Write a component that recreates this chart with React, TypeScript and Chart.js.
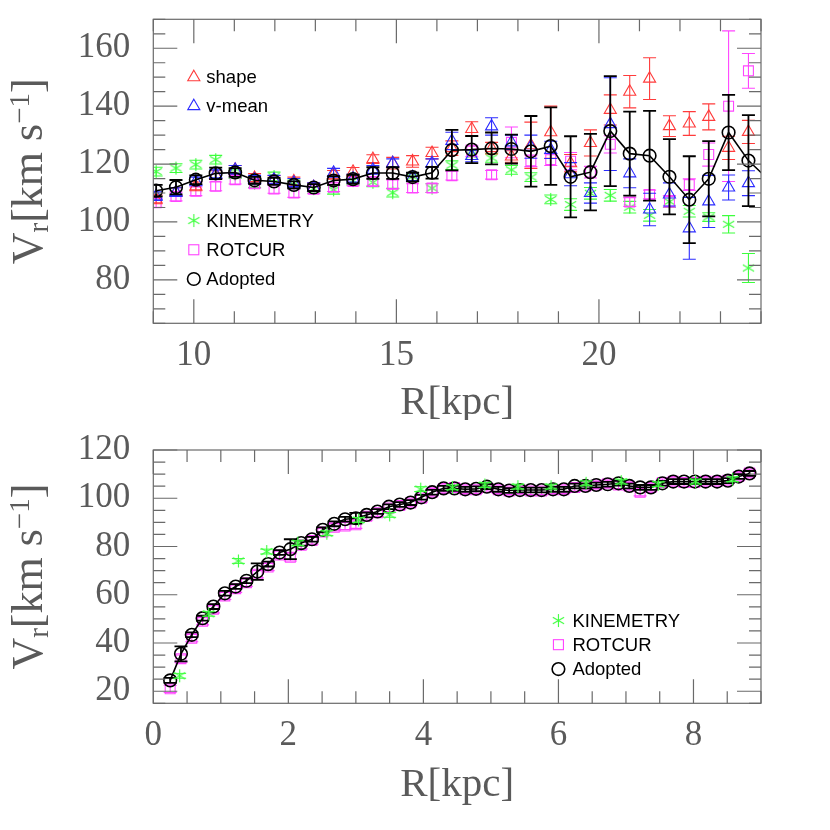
import React, { useEffect, useRef } from 'react';
import { Chart, registerables } from 'chart.js';

Chart.register(...registerables);

// ---------------- Top panel (outer disk) ----------------
const outerTicksX = [10, 15, 20];
const outerTicksY = [80, 100, 120, 140, 160];

const outerR = [9.07, 9.56, 10.05, 10.54, 11.02, 11.5, 11.98, 12.47, 12.96, 13.45, 13.93, 14.42, 14.91, 15.4, 15.88, 16.37, 16.86, 17.35, 17.84, 18.32, 18.81, 19.3, 19.79, 20.28, 20.76, 21.25, 21.74, 22.23, 22.71, 23.2, 23.69];
const outerAdoptedR = [9.07, 9.56, 10.05, 10.54, 11.02, 11.5, 11.98, 12.47, 12.96, 13.45, 13.93, 14.42, 14.91, 15.4, 15.88, 16.37, 16.86, 17.35, 17.84, 18.32, 18.81, 19.3, 19.79, 20.28, 20.76, 21.25, 21.74, 22.23, 22.71, 23.2, 23.69, 24.18];

const outerAdopted = [110.8, 112.0, 114.6, 116.8, 117.1, 114.4, 114.0, 112.8, 111.9, 114.3, 114.8, 116.9, 116.9, 115.5, 117.0, 124.8, 125.0, 125.4, 125.2, 124.4, 126.2, 115.6, 117.2, 131.4, 123.6, 122.9, 115.6, 107.7, 114.9, 130.9, 121.2, 114.7];
const outerAdoptedErr = [2.0, 2.5, 1.5, 2.0, 1.5, 1.2, 1.2, 1.2, 1.2, 1.5, 1.5, 2.0, 2.0, 1.5, 2.0, 7.0, 4.7, 5.5, 5.0, 12.2, 13.4, 14.0, 13.2, 19.0, 14.5, 15.5, 13.0, 15.0, 13.0, 13.0, 15.7, 15.0];

const outerShape = [107.8, 110.3, 112.3, 116.2, 118.0, 115.2, 114.5, 114.0, 112.0, 116.3, 117.3, 121.7, 120.3, 120.9, 123.8, 125.5, 132.1, 125.5, 122.6, 126.5, 131.0, 120.3, 127.3, 138.7, 145.0, 149.5, 133.1, 134.0, 136.3, 125.6, 131.1];
const outerShapeErr = [1.5, 1.5, 1.5, 1.5, 1.5, 1.5, 1.5, 1.5, 1.5, 1.5, 1.5, 1.5, 2.0, 2.0, 2.0, 2.5, 2.5, 2.0, 2.0, 8.0, 9.0, 3.0, 4.5, 5.2, 5.6, 7.2, 3.6, 4.1, 4.5, 4.0, 4.0];

const outerVmean = [108.9, 110.3, 114.0, 116.5, 118.0, 114.6, 114.6, 113.5, 112.0, 117.0, 115.0, 118.0, 120.3, 115.5, 120.3, 128.0, 122.8, 133.0, 127.5, 126.0, 124.9, 116.5, 110.0, 133.8, 116.8, 104.3, 109.5, 97.8, 107.1, 111.9, 113.4];
const outerVmeanErr = [1.5, 1.5, 1.5, 1.5, 1.5, 1.5, 1.5, 1.5, 1.5, 1.5, 1.5, 1.5, 1.5, 1.5, 1.5, 3.0, 2.0, 3.0, 2.5, 4.0, 3.0, 4.0, 3.5, 16.0, 5.0, 5.6, 4.0, 10.7, 9.0, 4.3, 4.3];

const outerKin = [117.4, 118.6, 119.8, 121.5, 116.5, 113.4, 115.7, 113.0, 111.5, 111.1, 114.3, 113.7, 110.1, 115.6, 111.7, 119.6, 123.1, 122.1, 118.0, 115.5, 107.8, 106.0, 109.9, 109.2, 105.1, 102.3, 107.0, 103.7, 101.7, 99.2, 84.1];
const outerKinErr = [1.5, 1.5, 1.5, 1.5, 1.5, 1.5, 1.5, 1.5, 1.5, 1.5, 1.5, 1.5, 1.5, 1.5, 1.5, 1.5, 1.5, 1.5, 1.5, 1.5, 1.5, 2.0, 2.0, 2.0, 2.0, 2.0, 2.0, 2.0, 1.5, 3.0, 5.0];

const outerRot = [106.6, 108.8, 110.6, 112.3, 114.6, 113.2, 111.4, 110.0, 111.3, 112.0, 114.0, 114.0, 113.0, 111.7, 111.7, 116.0, 124.5, 116.3, 127.5, 121.1, 121.5, 121.0, 117.2, 126.8, 106.9, 109.5, 107.1, 112.9, 123.3, 140.0, 152.2];
const outerRotErr = [1.5, 1.5, 1.5, 1.5, 1.5, 1.5, 1.5, 1.5, 1.5, 1.5, 1.5, 1.5, 1.5, 1.5, 1.5, 1.5, 2.0, 1.5, 5.3, 2.0, 2.0, 3.0, 2.0, 3.0, 1.5, 1.5, 2.0, 2.0, 4.0, 26.0, 6.0];

// ---------------- Bottom panel (inner disk) ----------------
const innerTicksX = [0, 2, 4, 6, 8];
const innerTicksY = [20, 40, 60, 80, 100, 120];

const innerR = [0.25, 0.41, 0.57, 0.73, 0.89, 1.06, 1.22, 1.38, 1.54, 1.7, 1.87, 2.03, 2.19, 2.35, 2.51, 2.68, 2.84, 3.0, 3.16, 3.32, 3.49, 3.65, 3.81, 3.97, 4.13, 4.3, 4.46, 4.62, 4.78, 4.94, 5.11, 5.27, 5.43, 5.59, 5.75, 5.92, 6.08, 6.24, 6.4, 6.56, 6.73, 6.89, 7.05, 7.21, 7.37, 7.54, 7.7, 7.86, 8.02, 8.18, 8.35, 8.51, 8.67, 8.83];
const innerAdopted = [24.5, 35.5, 43.4, 50.3, 55.1, 60.6, 63.4, 65.8, 69.6, 72.7, 77.5, 78.9, 81.4, 83.0, 86.9, 89.4, 91.3, 91.7, 93.1, 94.5, 96.5, 97.4, 98.2, 100.4, 102.5, 104.1, 104.1, 103.7, 103.9, 104.8, 103.7, 103.2, 103.4, 103.4, 103.4, 103.7, 103.7, 105.1, 105.1, 105.5, 105.8, 106.2, 105.1, 104.5, 104.5, 106.2, 106.9, 106.9, 106.9, 106.9, 106.9, 107.3, 109.0, 110.3];
const innerAdoptedErr = [1.0, 3.1, 1.0, 1.0, 1.0, 1.0, 1.0, 1.0, 3.4, 1.0, 1.0, 4.1, 1.0, 1.0, 1.0, 1.0, 1.0, 2.2, 1.0, 1.0, 1.0, 1.0, 1.0, 1.0, 1.0, 1.0, 1.0, 1.0, 1.0, 1.0, 1.0, 1.0, 1.0, 1.0, 1.0, 1.0, 1.0, 1.0, 1.0, 1.0, 1.0, 1.0, 1.0, 1.0, 1.0, 1.0, 1.0, 1.0, 1.0, 1.0, 1.0, 1.0, 1.0, 1.0];
const innerRot = [21.0, 33.5, 42.0, 49.0, 54.0, 59.5, 62.5, 65.0, 68.5, 71.5, 76.5, 75.5, 80.5, 82.5, 86.0, 88.0, 88.5, 89.0, 92.5, 94.0, 96.0, 97.0, 98.0, 100.0, 102.5, 104.0, 104.5, 103.5, 103.5, 104.5, 103.5, 103.0, 103.5, 103.0, 103.0, 103.5, 103.5, 104.5, 105.0, 105.5, 106.0, 105.5, 105.0, 102.5, 104.5, 106.5, 107.0, 106.5, 106.5, 107.0, 107.0, 107.5, 109.0, 110.5];
const innerRotErr = [1.5, 1.5, 1.5, 1.5, 1.5, 1.5, 1.5, 1.5, 1.5, 1.5, 1.5, 1.5, 1.5, 1.5, 1.5, 1.5, 1.5, 1.5, 1.5, 1.5, 1.5, 1.5, 1.5, 1.5, 1.5, 1.5, 1.5, 1.5, 1.5, 1.5, 1.5, 1.5, 1.5, 1.5, 1.5, 1.5, 1.5, 1.5, 1.5, 1.5, 1.5, 1.5, 1.5, 1.5, 1.5, 1.5, 1.5, 1.5, 1.5, 1.5, 1.5, 1.5, 1.5, 1.5];
const innerKinR = [0.39, 0.82, 1.26, 1.68, 2.14, 2.57, 3.04, 3.5, 3.96, 4.43, 4.91, 5.4, 5.89, 6.41, 6.93, 7.48, 8.03, 8.58];
const innerKin = [26.4, 52.1, 74.0, 77.9, 81.4, 85.5, 91.0, 93.1, 103.8, 104.5, 105.5, 104.8, 104.8, 106.2, 106.9, 105.8, 106.9, 107.9];
const innerKinErr = [1.0, 1.0, 1.0, 1.0, 1.0, 1.0, 1.0, 1.0, 1.0, 1.0, 1.0, 1.0, 1.0, 1.0, 1.0, 1.0, 1.0, 1.0];

// ---------------- Styles ----------------
const SERIF = '"Liberation Serif", "Times New Roman", serif';
const SANS = '"Liberation Sans", Arial, Helvetica, sans-serif';
const FRAME = '#6a6a6a';
const LABEL = '#5a5a5a';
const COL = { shape: '#ff3b3b', vmean: '#2b2bff', kin: '#3cff3c', rot: '#ff45ff', adopted: '#000000' };

function makeAsterisk(color: string) {
  const c = document.createElement('canvas');
  c.width = 15;
  c.height = 15;
  const g = c.getContext('2d')!;
  g.strokeStyle = color;
  g.lineWidth = 1.1;
  const cx = 7.5, cy = 7.5, r = 6.5;
  for (const deg of [90, 30, 150]) {
    const a = (deg * Math.PI) / 180;
    g.beginPath();
    g.moveTo(cx - r * Math.cos(a), cy - r * Math.sin(a));
    g.lineTo(cx + r * Math.cos(a), cy + r * Math.sin(a));
    g.stroke();
  }
  return c;
}

function pts(xs: number[], ys: number[]) {
  return ys.map((y, i) => ({ x: xs[i], y }));
}

function drawMarker(ctx: CanvasRenderingContext2D, kind: string, x: number, y: number, color: string, star: HTMLCanvasElement) {
  ctx.save();
  ctx.strokeStyle = color;
  ctx.lineWidth = kind === 'circle' ? 1.6 : 1.1;
  ctx.beginPath();
  if (kind === 'triangle') {
    const r = 7;
    for (let k = 0; k < 3; k++) {
      const a = (k * 2 * Math.PI) / 3;
      const px = x + Math.sin(a) * r, py = y - Math.cos(a) * r;
      if (k === 0) ctx.moveTo(px, py); else ctx.lineTo(px, py);
    }
    ctx.closePath();
    ctx.stroke();
  } else if (kind === 'rect') {
    const s = 5;
    ctx.strokeRect(x - s, y - s, 2 * s, 2 * s);
  } else if (kind === 'circle') {
    ctx.arc(x, y, 6.3, 0, Math.PI * 2);
    ctx.stroke();
  } else if (kind === 'star') {
    ctx.drawImage(star, x - star.width / 2, y - star.height / 2);
  }
  ctx.restore();
}

const decorPlugin = {
  id: 'decor',
  beforeDatasetDraw(chart: any, args: any) {
    const ds = chart.data.datasets[args.index];
    if (!ds.errors) return;
    const { ctx, chartArea: a } = chart;
    const xs = chart.scales.x, ys = chart.scales.y;
    ctx.save();
    ctx.beginPath();
    ctx.rect(a.left, a.top, a.right - a.left, a.bottom - a.top);
    ctx.clip();
    ctx.strokeStyle = ds.errColor;
    ctx.lineWidth = ds.errWidth;
    const cap = 6.5;
    ds.data.forEach((p: any, j: number) => {
      const e = ds.errors[j];
      const px = xs.getPixelForValue(p.x);
      const y1 = ys.getPixelForValue(p.y - e);
      const y2 = ys.getPixelForValue(p.y + e);
      ctx.beginPath();
      ctx.moveTo(px, y1);
      ctx.lineTo(px, y2);
      ctx.moveTo(px - cap, y1);
      ctx.lineTo(px + cap, y1);
      ctx.moveTo(px - cap, y2);
      ctx.lineTo(px + cap, y2);
      ctx.stroke();
    });
    ctx.restore();
  },
  afterDatasetsDraw(chart: any, _args: any, o: any) {
    const { ctx, chartArea: a } = chart;
    const xs = chart.scales.x, ys = chart.scales.y;
    ctx.save();
    // frame
    ctx.strokeStyle = FRAME;
    ctx.lineWidth = 1.2;
    ctx.strokeRect(a.left, a.top, a.right - a.left, a.bottom - a.top);
    // inward ticks on all sides
    ctx.beginPath();
    const nx = Math.round((xs.max - xs.min) / o.xMinor);
    for (let k = 0; k <= nx; k++) {
      const v = xs.min + k * o.xMinor;
      const q = v / o.xMajor;
      const len = Math.abs(q - Math.round(q)) < 1e-6 ? 24 : 12;
      const px = xs.getPixelForValue(v);
      ctx.moveTo(px, a.bottom);
      ctx.lineTo(px, a.bottom - len);
      ctx.moveTo(px, a.top);
      ctx.lineTo(px, a.top + len);
    }
    const ny = Math.round((ys.max - ys.min) / o.yMinor);
    for (let k = 0; k <= ny; k++) {
      const v = ys.min + k * o.yMinor;
      const q = v / o.yMajor;
      const len = Math.abs(q - Math.round(q)) < 1e-6 ? 24 : 12;
      const py = ys.getPixelForValue(v);
      ctx.moveTo(a.left, py);
      ctx.lineTo(a.left + len, py);
      ctx.moveTo(a.right, py);
      ctx.lineTo(a.right - len, py);
    }
    ctx.stroke();

    // legend
    ctx.font = `18.5px ${SANS}`;
    ctx.fillStyle = '#000';
    ctx.textBaseline = 'middle';
    ctx.textAlign = 'left';
    for (const it of o.legend) {
      const px = xs.getPixelForValue(it.x);
      const py = ys.getPixelForValue(it.y);
      drawMarker(ctx, it.kind, px, py, it.color, o.star);
      ctx.fillText(it.text, px + o.legendGap, py + 1);
    }

    // x title
    ctx.fillStyle = LABEL;
    ctx.textAlign = 'center';
    ctx.textBaseline = 'alphabetic';
    ctx.font = `41px ${SERIF}`;
    ctx.fillText('R[kpc]', (a.left + a.right) / 2, a.bottom + o.xTitleGap);

    // y title with sub/superscripts, rotated
    const parts = [
      { t: 'V', f: `44px ${SERIF}`, dy: 0 },
      { t: 'r', f: `29px ${SERIF}`, dy: 6 },
      { t: '[km s', f: `44px ${SERIF}`, dy: 0 },
      { t: '\u22121', f: `29px ${SERIF}`, dy: -13 },
      { t: ']', f: `44px ${SERIF}`, dy: 0 },
    ];
    let total = 0;
    const widths = parts.map((p) => {
      ctx.font = p.f;
      const w = ctx.measureText(p.t).width;
      total += w;
      return w;
    });
    ctx.translate(41.5, (a.top + a.bottom) / 2);
    ctx.rotate(-Math.PI / 2);
    ctx.textAlign = 'left';
    let cx = -total / 2;
    parts.forEach((p, i) => {
      ctx.font = p.f;
      ctx.fillText(p.t, cx, p.dy);
      cx += widths[i];
    });
    ctx.restore();
  },
};

function scalesFor(xMin: number, xMax: number, yMin: number, yMax: number, xTicks: number[], yTicks: number[], xAxisH: number) {
  const font = { family: SERIF, size: 35 };
  return {
    x: {
      type: 'linear',
      min: xMin,
      max: xMax,
      grid: { display: false, drawTicks: false },
      border: { display: false },
      ticks: { font, color: LABEL, padding: 12, maxRotation: 0, autoSkip: false, callback: (v: any) => String(v) },
      afterBuildTicks: (s: any) => {
        s.ticks = xTicks.map((v) => ({ value: v }));
      },
      afterFit: (s: any) => {
        s.height = xAxisH;
        s.paddingLeft = 0;
        s.paddingRight = 0;
        s.paddingTop = 0;
        s.paddingBottom = 0;
      },
    },
    y: {
      type: 'linear',
      min: yMin,
      max: yMax,
      grid: { display: false, drawTicks: false },
      border: { display: false },
      ticks: { font, color: LABEL, padding: 23, autoSkip: false, callback: (v: any) => String(v) },
      afterBuildTicks: (s: any) => {
        s.ticks = yTicks.map((v) => ({ value: v }));
      },
      afterFit: (s: any) => {
        s.width = 153.3;
        s.paddingLeft = 0;
        s.paddingRight = 0;
        s.paddingTop = 0;
        s.paddingBottom = 0;
      },
    },
  };
}

function markerDataset(label: string, data: any[], errors: number[], color: string, style: any, radius: number, errWidth: number) {
  return {
    label,
    data,
    errors,
    errColor: color,
    errWidth,
    showLine: false,
    pointStyle: style,
    pointRadius: radius,
    pointHoverRadius: radius,
    pointBorderColor: color,
    pointBackgroundColor: 'rgba(0,0,0,0)',
    pointBorderWidth: 1.1,
    clip: 0,
  };
}

function adoptedDataset(data: any[], errors: number[]) {
  return {
    label: 'Adopted',
    data,
    errors,
    errColor: '#000',
    errWidth: 1.8,
    showLine: true,
    borderColor: '#000',
    borderWidth: 1.6,
    tension: 0,
    pointStyle: 'circle',
    pointRadius: 6.3,
    pointHoverRadius: 6.3,
    pointBorderColor: '#000',
    pointBackgroundColor: 'rgba(0,0,0,0)',
    pointBorderWidth: 1.6,
    clip: 0,
  };
}

function buildTop(star: HTMLCanvasElement): any {
  return {
    type: 'scatter',
    data: {
      datasets: [
        adoptedDataset(pts(outerAdoptedR, outerAdopted), outerAdoptedErr),
        markerDataset('v-mean', pts(outerR, outerVmean), outerVmeanErr, COL.vmean, 'triangle', 7, 1.1),
        markerDataset('shape', pts(outerR, outerShape), outerShapeErr, COL.shape, 'triangle', 7, 1.1),
        markerDataset('ROTCUR', pts(outerR, outerRot), outerRotErr, COL.rot, 'rect', 7, 1.1),
        markerDataset('KINEMETRY', pts(outerR, outerKin), outerKinErr, COL.kin, star, 7, 1.1),
      ],
    },
    options: {
      animation: false,
      responsive: false,
      devicePixelRatio: 1,
      events: [],
      layout: { padding: { top: 19.3, right: 69, left: 0, bottom: 0 } },
      scales: scalesFor(9, 24, 65, 170, outerTicksX, outerTicksY, 96.7),
      plugins: {
        legend: { display: false },
        tooltip: { enabled: false },
        decor: {
          xMinor: 1, xMajor: 5, yMinor: 5, yMajor: 20,
          xTitleGap: 91,
          legendGap: 12.5,
          star,
          legend: [
            { kind: 'triangle', color: COL.shape, text: 'shape', x: 10, y: 150 },
            { kind: 'triangle', color: COL.vmean, text: 'v-mean', x: 10, y: 140 },
            { kind: 'star', color: COL.kin, text: 'KINEMETRY', x: 10, y: 100.5 },
            { kind: 'rect', color: COL.rot, text: 'ROTCUR', x: 10, y: 90.4 },
            { kind: 'circle', color: COL.adopted, text: 'Adopted', x: 10, y: 80.3 },
          ],
        },
      },
    },
    plugins: [decorPlugin],
  };
}

function buildBottom(star: HTMLCanvasElement): any {
  return {
    type: 'scatter',
    data: {
      datasets: [
        markerDataset('KINEMETRY', pts(innerKinR, innerKin), innerKinErr, COL.kin, star, 7, 1.0),
        adoptedDataset(pts(innerR, innerAdopted), innerAdoptedErr),
        markerDataset('ROTCUR', pts(innerR, innerRot), innerRotErr, COL.rot, 'rect', 7, 1.1),
      ],
    },
    options: {
      animation: false,
      responsive: false,
      devicePixelRatio: 1,
      events: [],
      layout: { padding: { top: 30, right: 69, left: 0, bottom: 0 } },
      scales: scalesFor(0, 9, 15, 120, innerTicksX, innerTicksY, 126.7),
      plugins: {
        legend: { display: false },
        tooltip: { enabled: false },
        decor: {
          xMinor: 0.5, xMajor: 2, yMinor: 5, yMajor: 20,
          xTitleGap: 93,
          legendGap: 14,
          star,
          legend: [
            { kind: 'star', color: COL.kin, text: 'KINEMETRY', x: 6.0, y: 49.3 },
            { kind: 'rect', color: COL.rot, text: 'ROTCUR', x: 6.0, y: 39.3 },
            { kind: 'circle', color: COL.adopted, text: 'Adopted', x: 6.0, y: 29.2 },
          ],
        },
      },
    },
    plugins: [decorPlugin],
  };
}

export default function App() {
  const topRef = useRef<HTMLCanvasElement>(null);
  const botRef = useRef<HTMLCanvasElement>(null);
  useEffect(() => {
    document.body.style.margin = '0';
    const star = makeAsterisk(COL.kin);
    const c1 = new Chart(topRef.current!, buildTop(star));
    const c2 = new Chart(botRef.current!, buildBottom(star));
    return () => {
      c1.destroy();
      c2.destroy();
    };
  }, []);
  return (
    <div style={{ position: 'relative', width: 830, height: 830, background: '#fff' }}>
      <canvas ref={topRef} width={830} height={420} style={{ position: 'absolute', left: 0, top: 0 }} />
      <canvas ref={botRef} width={830} height={410} style={{ position: 'absolute', left: 0, top: 420 }} />
    </div>
  );
}
